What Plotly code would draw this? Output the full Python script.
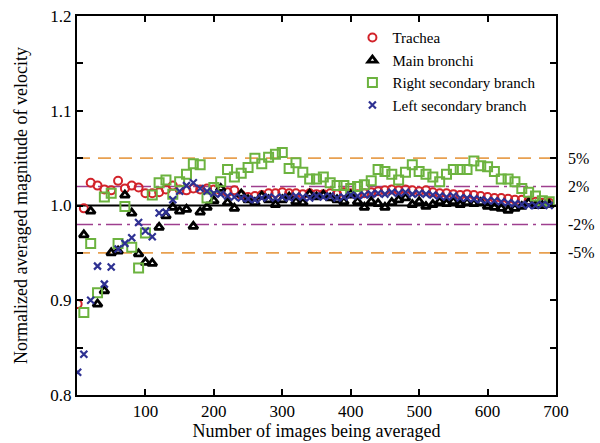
import plotly.graph_objects as go

images = [1] + [10 * k for k in range(1, 70)]
images_b = images[1:]

trachea = [0.896, 0.997, 1.024, 1.021, 1.017, 1.016, 1.026, 1.018, 1.021, 1.019,
           1.013, 1.013, 1.014, 1.017, 1.021, 1.017, 1.016, 1.018, 1.017, 1.018,
           1.017, 1.016, 1.014, 1.016, 1.011, 1.009, 1.010, 1.011, 1.013, 1.013,
           1.014, 1.013, 1.013, 1.012, 1.013, 1.012, 1.012, 1.013, 1.012, 1.014,
           1.013, 1.012, 1.013, 1.014, 1.015, 1.016, 1.017, 1.016, 1.017, 1.016,
           1.015, 1.016, 1.014, 1.013, 1.013, 1.012, 1.011, 1.012, 1.011, 1.010,
           1.009, 1.008, 1.008, 1.007, 1.006, 1.006, 1.005, 1.004, 1.003, 1.003]

main_bronchi = [0.969, 0.994, 0.896, 0.910, 0.950, 0.952, 1.011, 0.992, 0.949,
                0.940, 0.939, 0.977, 0.989, 0.998, 0.994, 0.996, 0.978, 0.993, 0.998,
                1.005, 1.018, 1.003, 0.997, 1.012, 1.006, 1.003, 1.010, 1.006, 1.001,
                1.006, 1.009, 1.004, 1.003, 1.012, 1.009, 1.011, 1.008, 1.006, 1.004,
                1.011, 1.004, 0.998, 1.004, 1.002, 0.998, 1.003, 1.006, 1.008, 1.001,
                1.004, 0.999, 1.001, 1.004, 1.002, 1.004, 1.001, 1.003, 1.002, 1.003,
                0.999, 0.998, 0.997, 0.995, 0.997, 0.999, 1.003, 1.000, 1.000, 1.001]

right_secondary = [0.887, 0.960, 0.908, 1.009, 1.013, 0.960, 0.999, 0.956, 0.934,
                   0.971, 1.011, 1.024, 1.027, 1.012, 1.025, 1.033, 1.044, 1.043, 1.008,
                   1.019, 1.025, 1.038, 1.030, 1.034, 1.040, 1.050, 1.044, 1.051, 1.054,
                   1.056, 1.039, 1.045, 1.035, 1.028, 1.028, 1.030, 1.024, 1.021, 1.021,
                   1.018, 1.020, 1.022, 1.026, 1.038, 1.036, 1.033, 1.027, 1.035, 1.043,
                   1.036, 1.033, 1.030, 1.025, 1.033, 1.038, 1.038, 1.038, 1.047, 1.042,
                   1.041, 1.036, 1.028, 1.028, 1.025, 1.018, 1.014, 1.010, 1.005, 1.004]

left_secondary = [0.824, 0.843, 0.900, 0.936, 0.917, 0.935, 0.954, 0.960, 0.966, 0.982,
                  0.973, 0.967, 0.992, 0.993, 1.006, 1.015, 1.021, 1.024, 1.018, 1.015,
                  1.013, 1.012, 1.010, 1.009, 1.008, 1.007, 1.006, 1.008, 1.009, 1.008,
                  1.009, 1.008, 1.010, 1.009, 1.008, 1.010, 1.009, 1.010, 1.008, 1.009,
                  1.011, 1.010, 1.011, 1.012, 1.013, 1.012, 1.014, 1.013, 1.014, 1.012,
                  1.013, 1.012, 1.011, 1.010, 1.009, 1.010, 1.008, 1.008, 1.007, 1.006,
                  1.005, 1.005, 1.004, 1.003, 1.002, 1.001, 1.000, 1.000, 1.001, 1.000]

band_levels = [1.05, 1.02, 0.98, 0.95]
band_labels = ["5%", "2%", "-2%", "-5%"]

FONT = "Liberation Serif"
RED = "#d2232a"
GREEN = "#6cb33f"
BLUE = "#2e3192"
ORANGE = "#e8a050"
PURPLE = "#9e3f8e"

fig = go.Figure()

# reference lines
fig.add_shape(type="line", xref="paper", x0=0, x1=1, y0=1.0, y1=1.0,
              line=dict(color="black", width=2), layer="below")
for lvl, lab in zip(band_levels, band_labels):
    if abs(lvl - 1) > 0.03:
        ln = dict(color=ORANGE, width=1.6, dash="13px,8px")
    else:
        ln = dict(color=PURPLE, width=1.6, dash="16px,5px,3px,5px")
    fig.add_shape(type="line", xref="paper", x0=0, x1=1, y0=lvl, y1=lvl,
                  line=ln, layer="below")
    fig.add_annotation(xref="paper", x=1.021, y=lvl, yref="y", text=lab,
                       showarrow=False, xanchor="left",
                       font=dict(family=FONT, size=16, color="black"))

fig.add_trace(go.Scatter(x=images, y=trachea, mode="markers", name="Trachea",
                         marker=dict(symbol="circle-open", size=8,
                                     line=dict(color=RED, width=2), color=RED)))
fig.add_trace(go.Scatter(x=images_b, y=main_bronchi, mode="markers", name="Main bronchi",
                         marker=dict(symbol="triangle-up-open", size=8,
                                     line=dict(color="black", width=2.8), color="black")))
fig.add_trace(go.Scatter(x=images_b, y=right_secondary, mode="markers",
                         name="Right secondary branch",
                         marker=dict(symbol="square-open", size=9,
                                     line=dict(color=GREEN, width=2), color=GREEN)))
fig.add_trace(go.Scatter(x=images, y=left_secondary, mode="markers",
                         name="Left secondary branch",
                         marker=dict(symbol="x-thin", size=7,
                                     line=dict(color=BLUE, width=2.2), color=BLUE)))

axis_common = dict(showline=True, linecolor="black", linewidth=2, mirror="ticks",
                   ticks="inside", ticklen=6, tickwidth=2, tickcolor="black",
                   showgrid=False, zeroline=False,
                   tickfont=dict(family=FONT, size=17, color="black"))

fig.update_xaxes(range=[0, 700], tickvals=[100, 200, 300, 400, 500, 600, 700],
                 title=dict(text="Number of images being averaged", standoff=2,
                            font=dict(family=FONT, size=18, color="black")),
                 **axis_common)
fig.update_yaxes(range=[0.8, 1.2], tickvals=[0.8, 0.9, 1.0, 1.1, 1.2],
                 ticktext=["0.8", "0.9", "1.0", "1.1", "1.2"],
                 minor=dict(tickvals=[0.85, 0.95, 1.05, 1.15], ticks="inside",
                            ticklen=6, tickwidth=2, tickcolor="black"),
                 title=dict(text="Normalized averaged magnitude of velocity", standoff=18,
                            font=dict(family=FONT, size=18, color="black")),
                 **axis_common)

fig.update_layout(
    width=600, height=443,
    margin=dict(l=77, r=44, t=16, b=48, autoexpand=False),
    plot_bgcolor="white", paper_bgcolor="white",
    font=dict(family=FONT, color="black"),
    legend=dict(x=0.575, y=0.986, xanchor="left", yanchor="top",
                bgcolor="rgba(0,0,0,0)", font=dict(family=FONT, size=15),
                itemwidth=30, tracegroupgap=0),
)

fig.write_html("out.html")
